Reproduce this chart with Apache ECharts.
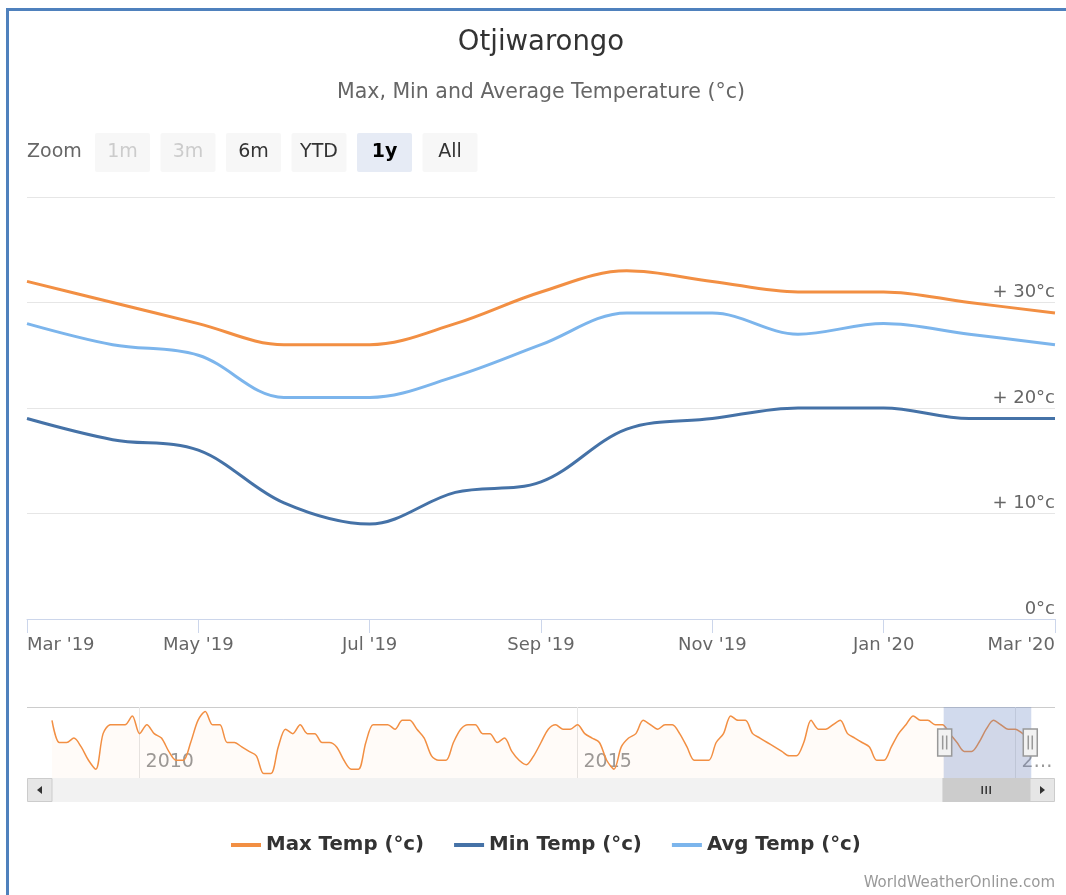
<!DOCTYPE html>
<html>
<head>
<meta charset="utf-8">
<title>Otjiwarongo</title>
<script src="https://cdn.jsdelivr.net/npm/echarts@6/dist/echarts.min.js"></script>
<style>
  html, body { margin: 0; padding: 0; background: #fff; }
  #chart { width: 1066px; height: 895px; }
  .frame {
    position: absolute; left: 6px; top: 8px; right: 0; bottom: 0;
    border-top: 3px solid #4f81bd; border-left: 3px solid #4f81bd;
    pointer-events: none;
  }
</style>
</head>
<body>
<div id="chart"></div>
<div class="frame"></div>
<script>
/* ----------------------------  Data  ---------------------------- */
const firstYear = 2009;              // navigator starts Jan 2009
const monthNames = ['Jan', 'Feb', 'Mar', 'Apr', 'May', 'Jun', 'Jul', 'Aug', 'Sep', 'Oct', 'Nov', 'Dec'];

// max temp history shown in the navigator, Jan 2009 .. Feb 2019
const maxEarlier = [
  33, 28, 28, 29, 27, 24, 22, 30, 32, 32, 32, 34,
  30, 32, 30, 29, 26, 24, 24, 28, 33, 35, 32, 32,
  28, 28, 27, 26, 25, 21, 21, 27, 31, 30, 32, 30,
  30, 28, 28, 27, 24, 22, 22, 28, 32, 32, 32, 31,
  33, 33, 31, 29, 25, 24, 24, 28, 31, 32, 32, 30,
  30, 28, 29, 26, 24, 23, 25, 28, 31, 32, 31, 31,
  32, 30, 29, 28, 24, 22, 27, 29, 30, 33, 32, 31,
  32, 32, 30, 27, 24, 24, 24, 28, 30, 34, 33, 33,
  30, 29, 28, 27, 26, 25, 25, 28, 33, 31, 31, 32,
  33, 30, 29, 28, 27, 24, 24, 27, 30, 32, 34, 33,
  33, 32
];

// Mar 2019 .. Mar 2020
const maxTemp = [32, 30, 28, 26, 26, 28, 31, 33, 32, 31, 31, 30, 29];
const minTemp = [19, 17, 16, 11, 9, 12, 13, 18, 19, 20, 20, 19, 19];
const avgTemp = [28, 26, 25, 21, 21, 23, 26, 29, 29, 27, 28, 27, 26];

const seriesNames = ['Max Temp (°c)', 'Min Temp (°c)', 'Avg Temp (°c)'];
const seriesColors = ['#f28f43', '#4572a7', '#7cb5ec'];

const rangeButtons = [
  { text: '1m', months: 1, disabled: true },
  { text: '3m', months: 3, disabled: true },
  { text: '6m', months: 6 },
  { text: 'YTD', months: 'ytd' },
  { text: '1y', months: 12 },
  { text: 'All', months: 'all' },
];

/* ----------------------------  Derived  ---------------------------- */
const maxHistory = maxEarlier.concat(maxTemp);
const months = [];
for (let i = 0; i < maxHistory.length; i++) {
  const y = firstYear + Math.floor(i / 12);
  const m = (i % 12) + 1;
  months.push(y + '-' + String(m).padStart(2, '0'));
}
const lastIdx = months.length - 1;
const lastYearMonths = months.slice(months.length - maxTemp.length);
const pairs = (vals) => lastYearMonths.map((m, i) => [m, vals[i]]);

/* ----------------------------  Layout  ---------------------------- */
const FONT = 'DejaVu Sans';
const plot = { left: 27, right: 1055, top: 197, bottom: 619 };
const nav = { left: 52, right: 1030, top: 707, bottom: 778 };
const bar = { top: 778, height: 24 };

/* ----------------------------  Helpers  ---------------------------- */
const oddMonth = (idx, v) => Number(v.slice(5)) % 2 === 1;
const navYear = (idx, v) => v.endsWith('-01') && Number(v.slice(0, 4)) % 5 === 0;

function monthLabel(v) {
  return monthNames[Number(v.slice(5)) - 1] + " '" + v.slice(2, 4);
}

function rangeGraphics(selected) {
  const els = [{
    id: 'rb-zoom', type: 'text', x: 27, y: 152,
    style: { text: 'Zoom', fontSize: 19, fontFamily: FONT, fill: '#666', verticalAlign: 'middle' },
  }];
  rangeButtons.forEach((b, i) => {
    const x = 95 + i * 65.5;
    const on = b.text === selected;
    els.push({
      id: 'rb-bg-' + i, type: 'rect', shape: { x: x, y: 133, width: 55, height: 39, r: 2 },
      style: { fill: on ? '#e6ebf5' : '#f7f7f7' },
      cursor: b.disabled ? 'default' : 'pointer',
      onclick: () => applyRange(b),
    });
    els.push({
      id: 'rb-tx-' + i, type: 'text', x: x + 27.5, y: 152, silent: true,
      style: {
        text: b.text, fontSize: 19, fontFamily: FONT, align: 'center', verticalAlign: 'middle',
        fontWeight: on ? 'bold' : 'normal',
        fill: b.disabled ? '#cccccc' : (on ? '#000' : '#333'),
      },
    });
  });
  return els;
}

function thumbGraphics(start, end) {
  const w = nav.right - nav.left;
  const x0 = nav.left + (start / 100) * w;
  const x1 = nav.left + (end / 100) * w;
  const cx = (x0 + x1) / 2;
  const cy = bar.top + bar.height / 2;
  const rifle = (id, dx) => ({
    id: id, type: 'line', silent: true,
    shape: { x1: cx + dx, y1: cy - 4, x2: cx + dx, y2: cy + 4 },
    style: { stroke: '#333', lineWidth: 1.5 },
  });
  return [
    { id: 'sb-thumb', type: 'rect', shape: { x: x0, y: bar.top, width: x1 - x0, height: bar.height },
      style: { fill: '#cccccc' } },
    rifle('sb-rifle1', -4),
    rifle('sb-rifle2', 0),
    rifle('sb-rifle3', 4),
  ];
}

function staticGraphics() {
  const cy = bar.top + bar.height / 2;
  return [
    { type: 'text', x: 541, y: 43,
      style: { text: 'Otjiwarongo', fontSize: 27.5, fontFamily: FONT, fill: '#333', align: 'center', verticalAlign: 'middle' } },
    { type: 'text', x: 541, y: 93,
      style: { text: 'Max, Min and Average Temperature (°c)', fontSize: 20.5, fontFamily: FONT, fill: '#666', align: 'center', verticalAlign: 'middle' } },
    // navigator outline
    { type: 'line', shape: { x1: 27, y1: nav.top + 0.5, x2: 1055, y2: nav.top + 0.5 }, style: { stroke: '#cccccc', lineWidth: 1 } },
    // scrollbar track + buttons
    { type: 'rect', shape: { x: nav.left, y: bar.top, width: nav.right - nav.left, height: bar.height }, style: { fill: '#f2f2f2' } },
    { type: 'rect', shape: { x: 27.5, y: bar.top + 0.5, width: 24.5, height: bar.height - 1 }, style: { fill: '#e6e6e6', stroke: '#cccccc' } },
    { type: 'rect', shape: { x: nav.right, y: bar.top + 0.5, width: 24.5, height: bar.height - 1 }, style: { fill: '#e6e6e6', stroke: '#cccccc' } },
    { type: 'polygon', shape: { points: [[42, cy - 4], [42, cy + 4], [37, cy]] }, style: { fill: '#333' } },
    { type: 'polygon', shape: { points: [[nav.right + 10, cy - 4], [nav.right + 10, cy + 4], [nav.right + 15, cy]] }, style: { fill: '#333' } },
    { type: 'text', x: 1055, y: 883,
      style: { text: 'WorldWeatherOnline.com', fontSize: 15, fontFamily: FONT, fill: '#999', align: 'right', verticalAlign: 'middle' } },
  ];
}

/* ----------------------------  Chart  ---------------------------- */
const chart = echarts.init(document.getElementById('chart'));
const startIdx = months.indexOf(lastYearMonths[0]);
let selectedRange = '1y';

const option = {
  animation: false,
  textStyle: { fontFamily: FONT },
  legend: {
    data: seriesNames,
    left: 226, top: 830,
    icon: 'rect', itemWidth: 30, itemHeight: 4, itemGap: 30,
    textStyle: { fontSize: 19.75, fontWeight: 'bold', color: '#333' },
  },
  grid: [
    { left: plot.left, right: 1066 - plot.right, top: plot.top, height: plot.bottom - plot.top },
    { left: nav.left, right: 1066 - nav.right, top: nav.top, height: nav.bottom - nav.top },
  ],
  xAxis: [
    {
      type: 'category', gridIndex: 0, data: months, boundaryGap: false,
      axisLine: { lineStyle: { color: '#ccd6eb' } },
      axisTick: { interval: oddMonth, length: 14, lineStyle: { color: '#ccd6eb' } },
      axisLabel: {
        interval: oddMonth, margin: 17, color: '#666', fontSize: 18,
        formatter: monthLabel, alignMinLabel: 'left', alignMaxLabel: 'right',
        showMinLabel: true, showMaxLabel: true,
      },
      splitLine: { show: false },
    },
    {
      type: 'category', gridIndex: 1, data: months, boundaryGap: false,
      axisLine: { show: false }, axisTick: { show: false },
      splitLine: { show: true, interval: navYear, lineStyle: { color: '#e6e6e6' } },
      axisLabel: {
        interval: navYear, inside: true, margin: 6, align: 'left', padding: [0, 0, 0, 6],
        color: '#999', fontSize: 19,
        // the last year label is cut at the navigator edge, as in the original
        formatter: (v) => (v.startsWith('2020') ? '2…' : v.slice(0, 4)),
      },
    },
  ],
  yAxis: [
    {
      type: 'value', gridIndex: 0, position: 'right', min: 0, max: 40, interval: 10,
      axisLine: { show: false }, axisTick: { show: false },
      splitLine: { lineStyle: { color: '#e6e6e6' } },
      axisLabel: {
        inside: true, margin: 0, showMaxLabel: false, verticalAlign: 'bottom',
        padding: [0, 0, 1, 0], color: '#666', fontSize: 18,
        formatter: (v) => (v === 0 ? '0°c' : '+ ' + v + '°c'),
      },
    },
    { type: 'value', gridIndex: 1, min: 20, max: 36, show: false },
  ],
  dataZoom: [
    {
      type: 'slider', xAxisIndex: 0,
      left: nav.left, right: 1066 - nav.right, top: nav.top, height: nav.bottom - nav.top,
      startValue: startIdx, endValue: lastIdx,
      showDataShadow: false, showDetail: false, brushSelect: false, moveHandleSize: 0,
      backgroundColor: 'rgba(0,0,0,0)', borderColor: 'rgba(0,0,0,0)',
      fillerColor: 'rgba(102,133,194,0.3)',
      handleIcon: 'path://M-7,-13.5h14v27h-14z M-2,-7v14 M2,-7v14',
      handleSize: 27,
      handleStyle: { color: '#f2f2f2', borderColor: '#999', borderWidth: 1.5 },
      emphasis: { handleStyle: { color: '#f2f2f2', borderColor: '#666' } },
    },
  ],
  series: [
    {
      name: seriesNames[0], type: 'line', xAxisIndex: 0, yAxisIndex: 0,
      data: pairs(maxTemp), smooth: 0.35, symbol: 'none',
      color: seriesColors[0], lineStyle: { width: 3 },
    },
    {
      name: seriesNames[1], type: 'line', xAxisIndex: 0, yAxisIndex: 0,
      data: pairs(minTemp), smooth: 0.35, symbol: 'none',
      color: seriesColors[1], lineStyle: { width: 3 },
    },
    {
      name: seriesNames[2], type: 'line', xAxisIndex: 0, yAxisIndex: 0,
      data: pairs(avgTemp), smooth: 0.35, symbol: 'none',
      color: seriesColors[2], lineStyle: { width: 3 },
    },
    {
      name: 'navigator', type: 'line', xAxisIndex: 1, yAxisIndex: 1,
      data: maxHistory, smooth: 0.3, symbol: 'none', silent: true,
      color: seriesColors[0], lineStyle: { width: 1.5 },
      areaStyle: { color: 'rgba(242,143,67,0.05)' },
    },
  ],
  graphic: staticGraphics()
    .concat(rangeGraphics(selectedRange))
    .concat(thumbGraphics(startIdx / lastIdx * 100, 100)),
};

chart.setOption(option);

/* ----------------------------  Interaction  ---------------------------- */
function applyRange(b) {
  if (b.disabled) return;
  let from = 0;
  if (b.months === 'ytd') from = months.indexOf(months[lastIdx].slice(0, 4) + '-01');
  else if (b.months !== 'all') from = Math.max(0, lastIdx - b.months);
  selectedRange = b.text;
  chart.dispatchAction({ type: 'dataZoom', dataZoomIndex: 0, startValue: from, endValue: lastIdx });
  chart.setOption({ graphic: rangeGraphics(selectedRange) });
}

chart.on('datazoom', () => {
  const dz = chart.getOption().dataZoom[0];
  chart.setOption({ graphic: thumbGraphics(dz.start, dz.end) });
});
</script>
</body>
</html>
